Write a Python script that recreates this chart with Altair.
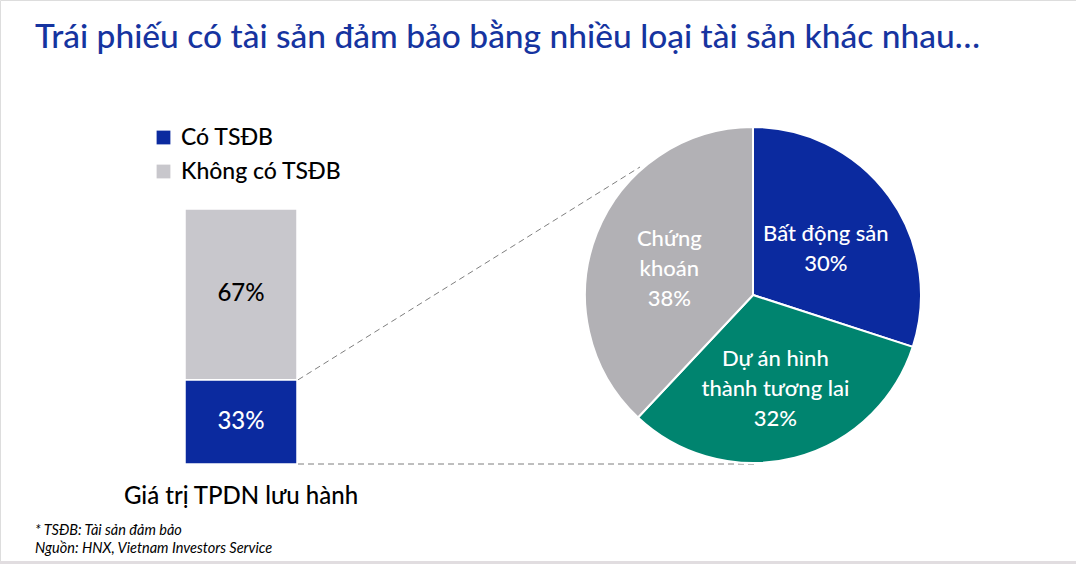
import altair as alt
import pandas as pd

# ---- data ----
title_text = "Trái phiếu có tài sản đảm bảo bằng nhiều loại tài sản khác nhau…"
bar_category = "Giá trị TPDN lưu hành"
bar_groups = ["Có TSĐB", "Không có TSĐB"]
bar_values = [33, 67]
bar_labels = ["33%", "67%"]

pie_groups = ["Bất động sản", "Dự án hình thành tương lai", "Chứng khoán"]
pie_values = [30, 32, 38]
pie_labels = ["Bất động sản\n30%", "Dự án hình\nthành tương lai\n32%", "Chứng\nkhoán\n38%"]

footnotes = ["* TSĐB: Tài sản đảm bảo", "Nguồn: HNX, Vietnam Investors Service"]

# ---- styles ----
FONT = "Lato"
WEIGHT = 500
BLUE = "#0b2a9f"
GRAY_BAR = "#c8c7cc"
PIE_COLORS = ["#0b2a9f", "#00846f", "#b2b1b5"]
TITLE_COLOR = "#1634a0"
LINE_H = 30

bar_df = pd.DataFrame({
    "cat": [bar_category] * len(bar_groups),
    "group": bar_groups,
    "value": bar_values,
    "label": bar_labels,
    "idx": list(range(len(bar_groups))),
})
pie_df = pd.DataFrame({
    "group": pie_groups,
    "value": pie_values,
    "label": pie_labels,
    "idx": list(range(len(pie_groups))),
})

x_scale = alt.Scale(range=[185, 297], paddingInner=0, paddingOuter=0)
y_scale = alt.Scale(domain=[0, 100], range=[464, 209])

bars = alt.Chart(bar_df).mark_bar(stroke="white", strokeWidth=1.5).encode(
    x=alt.X("cat:N", scale=x_scale, axis=None),
    y=alt.Y("value:Q", stack="zero", scale=y_scale, axis=None),
    color=alt.Color(
        "group:N",
        scale=alt.Scale(domain=bar_groups, range=[BLUE, GRAY_BAR]),
        legend=alt.Legend(
            orient="none", legendX=152, legendY=126, title=None,
            symbolType="square", symbolSize=190, symbolStrokeWidth=0,
            labelFontSize=23, labelFont=FONT, labelFontWeight=WEIGHT, labelColor="black",
            labelOffset=6, rowPadding=10, padding=0, labelLimit=0,
        ),
    ),
    order=alt.Order("idx:Q"),
)

bar_text = alt.Chart(bar_df).transform_stack(
    stack="value", groupby=["cat"], as_=["y0", "y1"], sort=[alt.SortField("idx")]
).transform_calculate(
    mid="(datum.y0 + datum.y1) / 2"
).mark_text(font=FONT, fontSize=24, fontWeight=WEIGHT, baseline="middle").encode(
    x=alt.X("cat:N", scale=x_scale, axis=None),
    y=alt.Y("mid:Q", scale=y_scale, axis=None),
    text="label:N",
    color=alt.condition("datum.idx == 0", alt.value("white"), alt.value("black")),
)

cat_label = alt.Chart(bar_df.head(1)).mark_text(
    font=FONT, fontSize=24, fontWeight=WEIGHT, baseline="alphabetic", color="black"
).encode(
    x=alt.X("cat:N", scale=x_scale, axis=None),
    y=alt.value(504),
    text="cat:N",
)

pie_base = alt.Chart(pie_df).encode(
    theta=alt.Theta("value:Q", stack=True),
    order=alt.Order("idx:Q"),
    x=alt.value(753),
    y=alt.value(295),
)
pie_arc = pie_base.mark_arc(outerRadius=168, stroke="white", strokeWidth=2).encode(
    color=alt.Color("group:N", scale=alt.Scale(domain=pie_groups, range=PIE_COLORS), legend=None)
)

# multi-line labels centred on their anchor: one text layer per vertical offset
pie_text_layers = []
for step in [-2, -1, 0, 1, 2]:  # offsets in half line-heights
    layer = pie_base.transform_calculate(
        lines="split(datum.label, '\\n')"
    ).transform_calculate(
        k=f"{step} / 2 + (length(datum.lines) - 1) / 2"
    ).transform_calculate(
        line="(datum.k == floor(datum.k) && datum.k >= 0 && datum.k < length(datum.lines)) ? datum.lines[datum.k] : ''"
    ).mark_text(
        radius=90, font=FONT, fontSize=22, fontWeight=WEIGHT, color="white",
        baseline="middle", dy=step * LINE_H / 2 + 7,
    ).encode(text="line:N")
    pie_text_layers.append(layer)

pie = alt.layer(pie_arc, *pie_text_layers)

conn_style = dict(color="#7f7f7f", strokeDash=[6, 4], strokeWidth=1)
conn_upper = alt.Chart(bar_df.head(1)).mark_rule(**conn_style).encode(
    x=alt.value(298), x2=alt.value(640),
    y=alt.Y(datum=bar_values[0], scale=y_scale, axis=None), y2=alt.value(167),
)
conn_lower = alt.Chart(bar_df.head(1)).mark_rule(**conn_style).encode(
    x=alt.value(298), x2=alt.value(755),
    y=alt.Y(datum=0, scale=y_scale, axis=None),
)

title = alt.Chart(pd.DataFrame({"t": [title_text]})).mark_text(
    font=FONT, fontSize=33.5, fontWeight=WEIGHT, color=TITLE_COLOR, align="left", baseline="alphabetic"
).encode(x=alt.value(35), y=alt.value(48), text="t:N")

foot_df = pd.DataFrame({"t": footnotes, "i": [0, 1]})
foot1 = alt.Chart(foot_df.iloc[[0]]).mark_text(
    font=FONT, fontSize=14.5, fontStyle="italic", color="black", align="left", baseline="alphabetic"
).encode(x=alt.value(35), y=alt.value(535), text="t:N")
foot2 = alt.Chart(foot_df.iloc[[1]]).mark_text(
    font=FONT, fontSize=14.5, fontStyle="italic", color="black", align="left", baseline="alphabetic"
).encode(x=alt.value(35), y=alt.value(553), text="t:N")

band = alt.Chart(pd.DataFrame({"a": [0]})).mark_rect(color="#e1dde0").encode(
    x=alt.value(0), x2=alt.value(1076), y=alt.value(561), y2=alt.value(564)
)

chart = alt.layer(
    band, conn_upper, conn_lower, bars, bar_text, cat_label, pie, title, foot1, foot2
).resolve_scale(color="independent").properties(
    width=1076, height=564, autosize=alt.AutoSizeParams(type="none"), padding=0
).configure_view(stroke=None).configure(background="white")

chart.save("out.html", embed_options={"renderer": "svg", "actions": False})
